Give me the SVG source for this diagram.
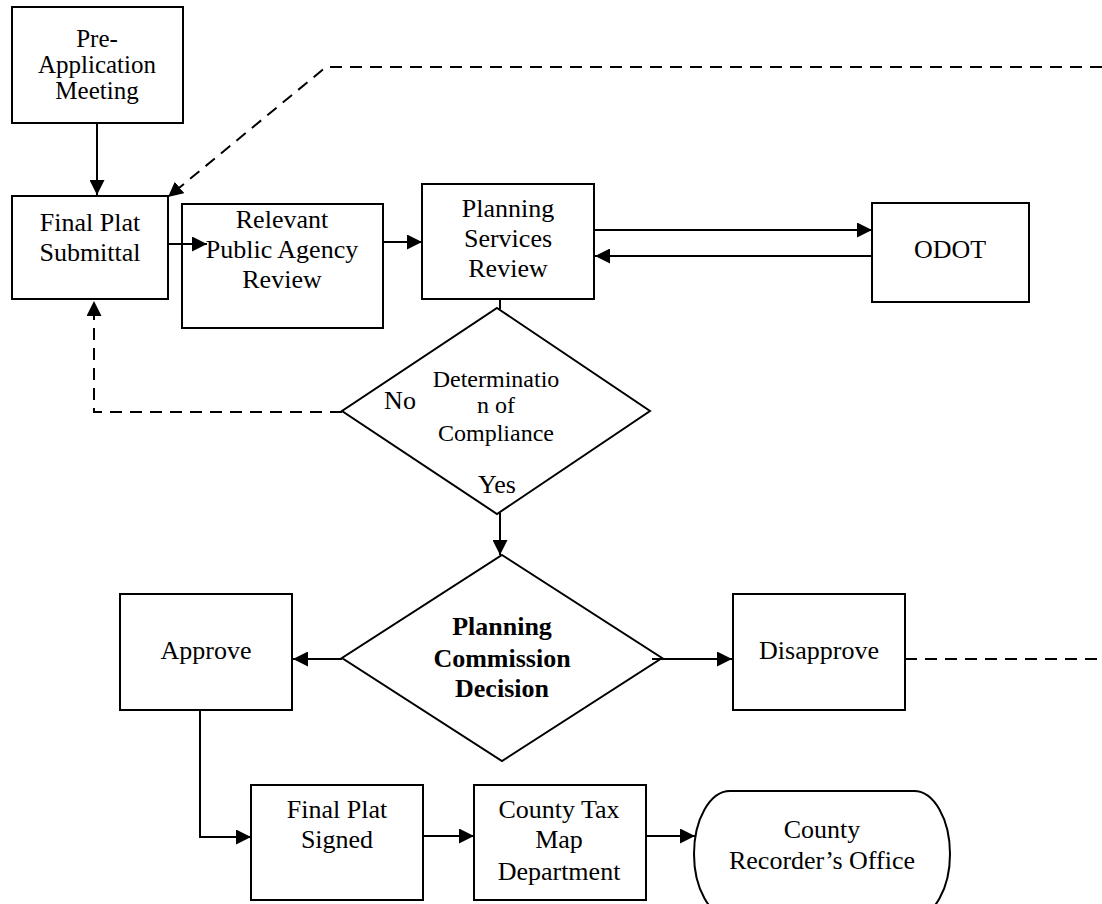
<svg xmlns="http://www.w3.org/2000/svg" width="1102" height="904" viewBox="0 0 1102 904">
<style>
.box{fill:#fff;stroke:#000;stroke-width:2}
.t{font-family:"Liberation Serif","Times New Roman","DejaVu Serif",serif;font-size:26px;fill:#000;text-anchor:middle}
.s{font-size:24px}
.b{font-weight:bold}
.c{fill:none;stroke:#000;stroke-width:2}
.d{stroke-dasharray:12 8}
</style>
<defs>
<marker id="ah" markerUnits="userSpaceOnUse" markerWidth="16" markerHeight="15" refX="15" refY="7.5" orient="auto">
<path d="M0,0 L15,7.5 L0,15 z" fill="#000"/>
</marker>
</defs>
<rect width="1102" height="904" fill="#fff"/>
<g id="pre-application">
<rect class="box" x="12" y="7" width="171" height="116"/>
<text class="t" x="97" y="47" style="font-size:25px">Pre-</text>
<text class="t" x="97" y="73" style="font-size:25px">Application</text>
<text class="t" x="97" y="99" style="font-size:25px">Meeting</text>
</g>
<g id="final-plat-submittal">
<rect class="box" x="12" y="196" width="156" height="103"/>
<text class="t" x="90" y="231">Final Plat</text>
<text class="t" x="90" y="261">Submittal</text>
</g>
<g id="relevant-agency">
<rect class="box" x="182" y="204" width="201" height="124"/>
<text class="t" x="282" y="228">Relevant</text>
<text class="t" x="282" y="258">Public Agency</text>
<text class="t" x="282" y="288">Review</text>
</g>
<g id="planning-services">
<rect class="box" x="422" y="184" width="172" height="115"/>
<text class="t" x="508" y="217">Planning</text>
<text class="t" x="508" y="247">Services</text>
<text class="t" x="508" y="277">Review</text>
</g>
<g id="odot">
<rect class="box" x="872" y="203" width="157" height="99"/>
<text class="t" x="950" y="258">ODOT</text>
</g>
<g id="determination">
<polygon class="box" points="497,308 650,411 497,514 342,411"/>
<text class="t s" x="496" y="387">Determinatio</text>
<text class="t s" x="496" y="413">n of</text>
<text class="t s" x="496" y="441">Compliance</text>
<text class="t" x="400" y="409">No</text>
<text class="t" x="497" y="493">Yes</text>
</g>
<g id="planning-commission">
<polygon class="box" points="502,555 662,658 502,761 342,658"/>
<text class="t b" x="502" y="635">Planning</text>
<text class="t b" x="502" y="667">Commission</text>
<text class="t b" x="502" y="697">Decision</text>
</g>
<g id="approve">
<rect class="box" x="120" y="594" width="172" height="116"/>
<text class="t" x="206" y="659">Approve</text>
</g>
<g id="disapprove">
<rect class="box" x="733" y="594" width="172" height="116"/>
<text class="t" x="819" y="659">Disapprove</text>
</g>
<g id="final-plat-signed">
<rect class="box" x="251" y="785" width="172" height="115"/>
<text class="t" x="337" y="818">Final Plat</text>
<text class="t" x="337" y="848">Signed</text>
</g>
<g id="county-tax">
<rect class="box" x="474" y="785" width="172" height="115"/>
<text class="t" x="559" y="818">County Tax</text>
<text class="t" x="559" y="848">Map</text>
<text class="t" x="559" y="880">Department</text>
</g>
<g id="county-recorder">
<rect class="box" x="694" y="791" width="256" height="126" rx="36" ry="63"/>
<text class="t" x="822" y="838">County</text>
<text class="t" x="822" y="869">Recorder’s Office</text>
</g>
<g id="connectors">
<line class="c" x1="97" y1="123" x2="97" y2="195" marker-end="url(#ah)"/>
<line class="c" x1="168" y1="244" x2="207" y2="244" marker-end="url(#ah)"/>
<line class="c" x1="383" y1="242" x2="422" y2="242" marker-end="url(#ah)"/>
<line class="c" x1="594" y1="230" x2="872" y2="230" marker-end="url(#ah)"/>
<line class="c" x1="872" y1="256" x2="595" y2="256" marker-end="url(#ah)"/>
<line class="c" x1="500" y1="299" x2="500" y2="309"/>
<polyline class="c d" points="342,412 94,412 94,301" marker-end="url(#ah)"/>
<polyline class="c d" points="1102,67 326,67 168,197" marker-end="url(#ah)"/>
<line class="c" x1="500" y1="513" x2="500" y2="555" marker-end="url(#ah)"/>
<line class="c" x1="342" y1="659" x2="293" y2="659" marker-end="url(#ah)"/>
<line class="c" x1="652" y1="659" x2="732" y2="659" marker-end="url(#ah)"/>
<line class="c d" x1="905" y1="659" x2="1102" y2="659"/>
<polyline class="c" points="200,710 200,837 251,837" marker-end="url(#ah)"/>
<line class="c" x1="423" y1="836" x2="474" y2="836" marker-end="url(#ah)"/>
<line class="c" x1="646" y1="836" x2="695" y2="836" marker-end="url(#ah)"/>
</g>
</svg>
